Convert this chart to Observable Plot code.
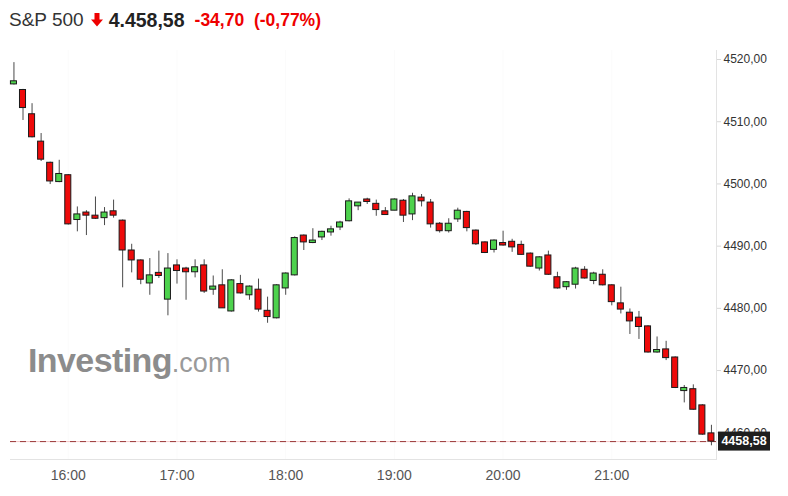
<!DOCTYPE html>
<html>
<head>
<meta charset="utf-8">
<script src="https://cdn.jsdelivr.net/npm/d3@7"></script>
<script src="https://cdn.jsdelivr.net/npm/@observablehq/plot@0.6"></script>
<style>
  body { margin: 0; background: #fff; width: 788px; height: 496px; overflow: hidden; font-family: "Liberation Sans", Arial, sans-serif; }
  #title { height: 40px; line-height: 38px; padding-left: 9px; white-space: nowrap; display: flex; align-items: center; }
  #title .name { font-size: 19px; color: #333; }
  #title .price { font-size: 19.5px; font-weight: bold; color: #222; margin-left: 6px; }
  #title .chg { font-size: 17.5px; font-weight: bold; color: #e00; margin-left: 10px; }
  #title svg { margin-left: 7px; }
</style>
</head>
<body>
<div id="title"><span class="name">S&amp;P 500</span><svg width="12" height="14" viewBox="0 0 12 14"><path d="M3.5 0 H8.5 V6.5 H12 L6 13.5 L0 6.5 H3.5 Z" fill="#e00"/></svg><span class="price">4.458,58</span><span class="chg">-34,70&nbsp;&nbsp;(-0,77%)</span></div>
<div id="chart"></div>
<script>
// 5-minute candles
const times = ["15:30","15:35","15:40","15:45","15:50","15:55","16:00","16:05","16:10","16:15","16:20","16:25",
  "16:30","16:35","16:40","16:45","16:50","16:55","17:00","17:05","17:10","17:15","17:20","17:25",
  "17:30","17:35","17:40","17:45","17:50","17:55","18:00","18:05","18:10","18:15","18:20","18:25",
  "18:30","18:35","18:40","18:45","18:50","18:55","19:00","19:05","19:10","19:15","19:20","19:25",
  "19:30","19:35","19:40","19:45","19:50","19:55","20:00","20:05","20:10","20:15","20:20","20:25",
  "20:30","20:35","20:40","20:45","20:50","20:55","21:00","21:05","21:10","21:15","21:20","21:25",
  "21:30","21:35","21:40","21:45","21:50","21:55"];
const opens = [4516.0,4515.1,4511.2,4506.8,4503.4,4500.3,4501.4,4494.2,4495.4,4494.9,4494.5,4495.6,
  4494.1,4489.3,4487.7,4484.0,4485.7,4481.4,4486.9,4486.4,4485.8,4486.9,4483.0,4483.7,
  4479.5,4483.9,4482.1,4483.0,4479.6,4478.4,4483.2,4485.3,4491.7,4490.5,4491.4,4492.2,
  4493.0,4494.0,4496.4,4497.5,4496.8,4495.6,4495.7,4497.3,4495.1,4497.8,4497.0,4493.6,
  4492.4,4494.3,4495.5,4492.5,4490.6,4489.4,4490.5,4490.7,4490.2,4488.8,4486.4,4488.5,
  4485.0,4483.4,4483.8,4486.2,4484.4,4485.4,4483.7,4480.8,4479.3,4478.5,4477.1,4472.9,
  4473.4,4472.1,4466.7,4467.0,4464.4,4459.9];
const highs = [4519.5,4515.2,4512.9,4508.1,4503.5,4503.8,4501.5,4496.3,4495.7,4497.9,4496.2,4497.4,
  4494.2,4490.3,4487.8,4488.0,4489.2,4488.8,4487.8,4486.6,4487.8,4487.8,4485.2,4486.2,
  4484.6,4485.3,4483.6,4484.7,4481.8,4483.8,4485.7,4491.5,4491.8,4492.8,4492.4,4493.2,
  4494.0,4497.6,4497.0,4497.7,4497.4,4496.2,4497.6,4497.5,4498.5,4498.3,4497.5,4493.8,
  4494.4,4496.1,4495.6,4492.6,4490.7,4491.0,4492.4,4491.1,4490.8,4488.9,4488.3,4489.2,
  4485.8,4484.3,4486.6,4486.7,4485.8,4486.2,4483.8,4483.4,4479.9,4479.5,4477.2,4475.4,
  4474.7,4472.2,4467.6,4467.7,4464.5,4461.2];
const lows = [4515.9,4510.2,4507.4,4503.6,4499.9,4500.2,4493.4,4492.3,4491.7,4494.3,4493.3,4494.5,
  4483.3,4485.7,4483.8,4482.1,4484.8,4478.8,4483.9,4481.3,4484.9,4482.4,4482.1,4480.0,
  4479.4,4482.3,4481.3,4479.4,4477.6,4478.3,4482.1,4485.2,4489.3,4490.4,4490.9,4491.6,
  4492.5,4493.9,4495.7,4496.7,4494.8,4495.0,4495.7,4493.8,4494.1,4496.3,4492.9,4492.1,
  4492.1,4493.8,4492.3,4490.1,4488.8,4488.9,4490.0,4489.0,4488.5,4486.6,4486.0,4485.3,
  4483.1,4482.9,4483.1,4484.7,4483.8,4483.6,4480.4,4479.1,4475.8,4475.0,4472.8,4472.8,
  4471.6,4467.1,4464.8,4463.6,4459.6,4457.9];
const closes = [4516.5,4512.2,4507.5,4503.9,4500.4,4501.6,4493.5,4495.1,4494.9,4494.4,4495.4,4494.9,
  4489.3,4487.7,4484.6,4485.3,4485.2,4486.4,4486.0,4485.8,4486.6,4482.7,4483.5,4480.0,
  4484.5,4482.4,4483.5,4479.8,4478.6,4483.7,4485.6,4491.3,4490.6,4490.9,4492.3,4492.7,
  4493.8,4497.2,4497.0,4497.1,4495.8,4495.0,4497.5,4494.9,4498.0,4497.2,4493.5,4492.4,
  4493.6,4495.7,4492.9,4490.3,4488.9,4490.9,4490.1,4489.8,4488.6,4486.7,4488.2,4485.4,
  4483.2,4484.2,4486.4,4484.8,4485.6,4483.7,4481.0,4479.8,4477.9,4477.0,4472.9,4473.3,
  4472.0,4467.2,4467.2,4463.7,4459.7,4458.58];
const hourTicks = ["16:00","17:00","18:00","19:00","20:00","21:00"];
const yTicks = [4460, 4470, 4480, 4490, 4500, 4510, 4520];
const lastPrice = 4458.58;

const parseT = s => new Date(Date.UTC(2023, 6, 21, +s.slice(0, 2), +s.slice(3, 5), +(s.slice(6) || 0)));
const data = times.map((t, i) => ({date: parseT(t), open: opens[i], high: highs[i], low: lows[i], close: closes[i]}));
const hourDates = hourTicks.map(parseT);
const fmtY = d => d.toFixed(2).replace(".", ",");
const halfW = 100000; // body half-width in ms

const plot = Plot.plot({
  width: 788, height: 456,
  marginLeft: 10, marginRight: 72, marginTop: 10, marginBottom: 37,
  style: {fontFamily: "'Liberation Sans', Arial, sans-serif", background: "transparent"},
  x: {type: "utc", domain: [parseT("15:28:06"), parseT("21:57:48")]},
  y: {domain: [4455.7, 4521.45]},
  color: {type: "identity"},
  marks: [
    Plot.gridX(hourDates, {stroke: "#000", strokeOpacity: 0.02}),
    Plot.frame({anchor: "bottom", stroke: "#e3e3e3"}),
    Plot.frame({anchor: "right", stroke: "#e3e3e3"}),
    Plot.axisX(hourDates, {tickSize: 0, tickPadding: 11, fontSize: 14, fill: "#555", tickFormat: d3.utcFormat("%H:%M"), label: null}),
    Plot.axisY(yTicks, {anchor: "right", tickSize: 4, tickPadding: 3, fontSize: 12, fill: "#333", stroke: "#d8d8d8", tickFormat: fmtY, label: null}),
    Plot.ruleY([lastPrice], {stroke: "#f4c6c6", strokeWidth: 1}),
    Plot.ruleY([lastPrice], {stroke: "#9a3a3a", strokeWidth: 1, strokeDasharray: "6,4"}),
    Plot.ruleX(data, {x: "date", y1: "low", y2: "high", stroke: "#4a4a4a", strokeWidth: 1}),
    Plot.rect(data, {
      x1: d => new Date(+d.date - halfW), x2: d => new Date(+d.date + halfW),
      y1: "open", y2: "close",
      fill: d => d.close >= d.open ? "#4dd24d" : "#ee0a0a",
      stroke: "#1a1a1a", strokeWidth: 1
    })
  ]
});
document.getElementById("chart").appendChild(plot);

// watermark and last-price label
const svg = d3.select(plot);
const ys = plot.scale("y");
const wm = svg.insert("text", ":first-child").attr("x", 28).attr("y", 332).attr("fill", "#8c8c8c")
  .attr("text-anchor", "start")
  .style("font-family", "'Liberation Sans', Arial, sans-serif");
wm.append("tspan").attr("font-size", 34).attr("font-weight", "bold").attr("letter-spacing", "-0.6").text("Investing");
wm.append("tspan").attr("font-size", 27).attr("fill", "#9a9a9a").text(".com");

const yp = ys.apply(lastPrice);
svg.append("rect").attr("x", 718).attr("y", yp - 9.5).attr("width", 52).attr("height", 19).attr("fill", "#1e1e1e");
svg.append("text").attr("x", 744).attr("y", yp).attr("dy", "0.35em").attr("text-anchor", "middle")
  .attr("fill", "#fff").attr("font-size", 12.5).attr("font-weight", "bold")
  .style("font-family", "'Liberation Sans', Arial, sans-serif").text(fmtY(lastPrice));
</script>
</body>
</html>
